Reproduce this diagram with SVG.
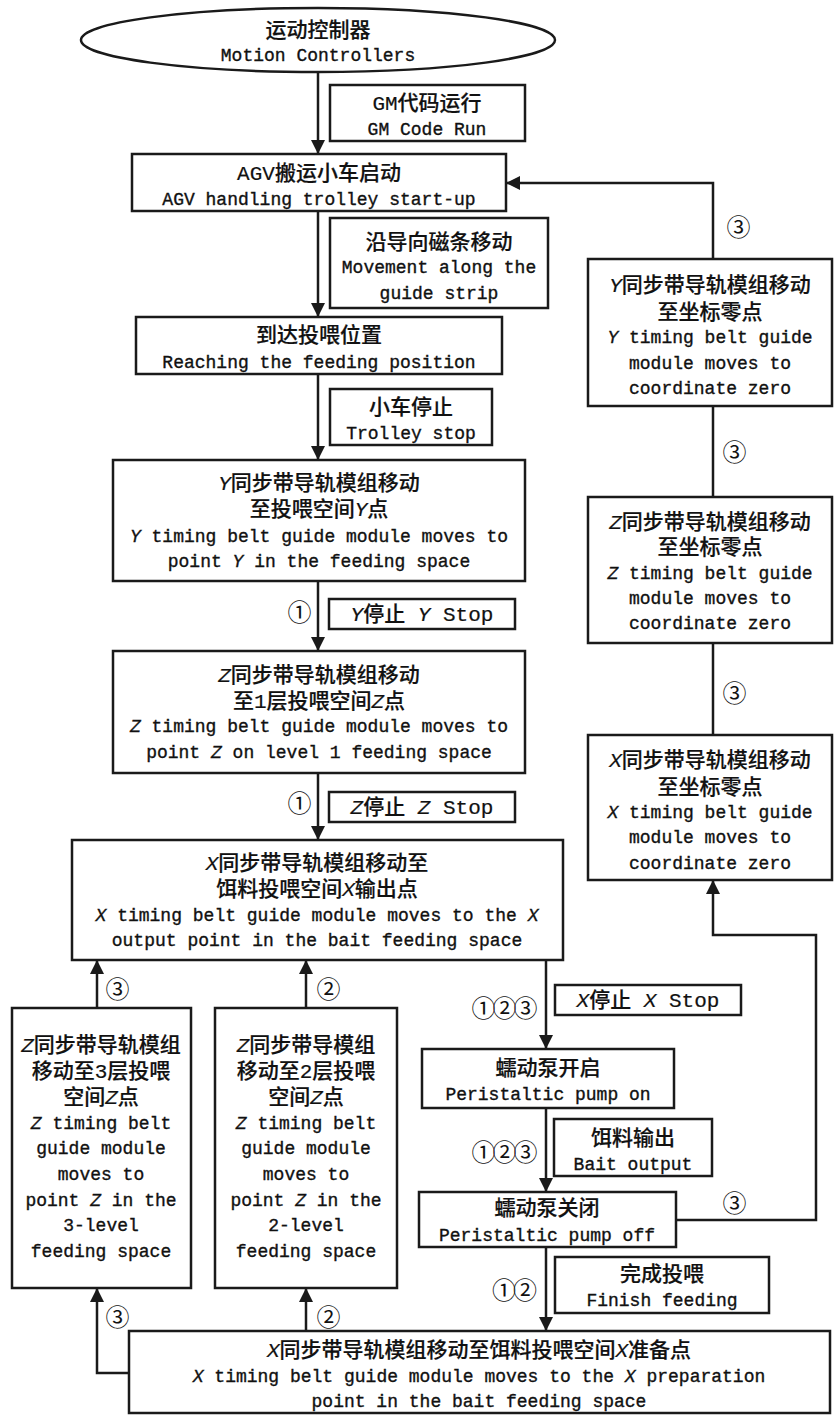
<svg xmlns="http://www.w3.org/2000/svg" width="834" height="1416" viewBox="0 0 834 1416">
<style>
.box{fill:#fff;stroke:#1a1a1a;stroke-width:2.5}
.ln{fill:none;stroke:#1a1a1a;stroke-width:2.5}
.t{font-family:"Liberation Mono","Noto Sans CJK SC",monospace;font-size:18px;fill:#111;stroke:#111;stroke-width:0.35;text-anchor:middle}
.c{font-size:21px;font-weight:500;stroke-width:0.2}
.i{font-style:italic}
.n{font-family:"Noto Sans CJK SC",sans-serif;font-size:24px;letter-spacing:-3px;fill:#111;text-anchor:middle}
</style>
<defs>
<marker id="ah" viewBox="0 0 14 14" refX="14" refY="7" markerWidth="14" markerHeight="14" orient="auto" markerUnits="userSpaceOnUse">
<path d="M0,0 L14,7 L0,14 z" fill="#1a1a1a"/>
</marker>
</defs>
<rect width="834" height="1416" fill="#fff"/>

<g id="connectors">
<path class="ln" d="M318,71 V154" marker-end="url(#ah)"/>
<path class="ln" d="M318,211 V317" marker-end="url(#ah)"/>
<path class="ln" d="M318,374 V460" marker-end="url(#ah)"/>
<path class="ln" d="M318,581 V651" marker-end="url(#ah)"/>
<path class="ln" d="M318,773 V840" marker-end="url(#ah)"/>
<path class="ln" d="M546,960 V1049" marker-end="url(#ah)"/>
<path class="ln" d="M546,1108 V1192" marker-end="url(#ah)"/>
<path class="ln" d="M546,1247 V1331" marker-end="url(#ah)"/>
<path class="ln" d="M676,1220 H816 V935 H713 V880" marker-end="url(#ah)"/>
<path class="ln" d="M713,735 V643"/>
<path class="ln" d="M713,497 V406"/>
<path class="ln" d="M713,259 V183 H506" marker-end="url(#ah)"/>
<path class="ln" d="M306,1331 V1288" marker-end="url(#ah)"/>
<path class="ln" d="M129,1373 H97 V1288" marker-end="url(#ah)"/>
<path class="ln" d="M97,1008 V960" marker-end="url(#ah)"/>
<path class="ln" d="M306,1008 V960" marker-end="url(#ah)"/>
<text class="n" x="737" y="236">③</text>
<text class="n" x="733" y="461">③</text>
<text class="n" x="733" y="702">③</text>
<text class="n" x="733" y="1212">③</text>
<text class="n" x="116" y="998">③</text>
<text class="n" x="327" y="998">②</text>
<text class="n" x="116" y="1326">③</text>
<text class="n" x="327" y="1326">②</text>
<text class="n" x="298" y="621">①</text>
<text class="n" x="298" y="812">①</text>
<text class="n" x="503" y="1017">①②③</text>
<text class="n" x="503" y="1161">①②③</text>
<text class="n" x="513" y="1299">①②</text>
</g>

<g id="n-start">
<ellipse class="box" cx="318" cy="40" rx="237" ry="32"/>
<text class="t c" x="318" y="37">运动控制器</text>
<text class="t" x="318" y="61">Motion Controllers</text>
</g>

<g id="n-gm">
<rect class="box" x="330" y="85" width="195" height="56"/>
<text class="t c" x="427" y="110">GM代码运行</text>
<text class="t" x="427" y="135">GM Code Run</text>
</g>

<g id="n-agv">
<rect class="box" x="132" y="154" width="374" height="57"/>
<text class="t c" x="319" y="180">AGV搬运小车启动</text>
<text class="t" x="319" y="205">AGV handling trolley start-up</text>
</g>

<g id="n-guide">
<rect class="box" x="330" y="218" width="218" height="90"/>
<text class="t c" x="439" y="249">沿导向磁条移动</text>
<text class="t" x="439" y="273">Movement along the</text>
<text class="t" x="439" y="299">guide strip</text>
</g>

<g id="n-reach">
<rect class="box" x="136" y="317" width="366" height="57"/>
<text class="t c" x="319" y="342">到达投喂位置</text>
<text class="t" x="319" y="368">Reaching the feeding position</text>
</g>

<g id="n-stop">
<rect class="box" x="330" y="389" width="162" height="56"/>
<text class="t c" x="411" y="414">小车停止</text>
<text class="t" x="411" y="439">Trolley stop</text>
</g>

<g id="n-y">
<rect class="box" x="113" y="460" width="412" height="121"/>
<text class="t c" x="319" y="490"><tspan class="i">Y</tspan>同步带导轨模组移动</text>
<text class="t c" x="319" y="516">至投喂空间<tspan class="i">Y</tspan>点</text>
<text class="t" x="319" y="542"><tspan class="i">Y</tspan> timing belt guide module moves to</text>
<text class="t" x="319" y="567">point <tspan class="i">Y</tspan> in the feeding space</text>
</g>

<g id="n-ystop">
<rect class="box" x="329" y="599" width="186" height="30"/>
<text class="t c" x="422" y="621"><tspan class="i">Y</tspan>停止 <tspan class="i">Y</tspan> Stop</text>
</g>

<g id="n-z">
<rect class="box" x="113" y="651" width="412" height="122"/>
<text class="t c" x="319" y="682"><tspan class="i">Z</tspan>同步带导轨模组移动</text>
<text class="t c" x="319" y="708">至1层投喂空间<tspan class="i">Z</tspan>点</text>
<text class="t" x="319" y="732"><tspan class="i">Z</tspan> timing belt guide module moves to</text>
<text class="t" x="319" y="758">point <tspan class="i">Z</tspan> on level 1 feeding space</text>
</g>

<g id="n-zstop">
<rect class="box" x="329" y="792" width="186" height="30"/>
<text class="t c" x="422" y="814"><tspan class="i">Z</tspan>停止 <tspan class="i">Z</tspan> Stop</text>
</g>

<g id="n-x">
<rect class="box" x="72" y="840" width="491" height="120"/>
<text class="t c" x="317" y="870"><tspan class="i">X</tspan>同步带导轨模组移动至</text>
<text class="t c" x="317" y="896">饵料投喂空间<tspan class="i">X</tspan>输出点</text>
<text class="t" x="317" y="921"><tspan class="i">X</tspan> timing belt guide module moves to the <tspan class="i">X</tspan></text>
<text class="t" x="317" y="946">output point in the bait feeding space</text>
</g>

<g id="n-z3">
<rect class="box" x="12" y="1008" width="179" height="280"/>
<text class="t c" x="101" y="1052"><tspan class="i">Z</tspan>同步带导轨模组</text>
<text class="t c" x="101" y="1078">移动至3层投喂</text>
<text class="t c" x="101" y="1104">空间<tspan class="i">Z</tspan>点</text>
<text class="t" x="101" y="1129"><tspan class="i">Z</tspan> timing belt</text>
<text class="t" x="101" y="1154">guide module</text>
<text class="t" x="101" y="1180">moves to</text>
<text class="t" x="101" y="1206">point <tspan class="i">Z</tspan> in the</text>
<text class="t" x="101" y="1231">3-level</text>
<text class="t" x="101" y="1257">feeding space</text>
</g>

<g id="n-z2">
<rect class="box" x="215" y="1008" width="182" height="280"/>
<text class="t c" x="306" y="1052"><tspan class="i">Z</tspan>同步带导模组</text>
<text class="t c" x="306" y="1078">移动至2层投喂</text>
<text class="t c" x="306" y="1104">空间<tspan class="i">Z</tspan>点</text>
<text class="t" x="306" y="1129"><tspan class="i">Z</tspan> timing belt</text>
<text class="t" x="306" y="1154">guide module</text>
<text class="t" x="306" y="1180">moves to</text>
<text class="t" x="306" y="1206">point <tspan class="i">Z</tspan> in the</text>
<text class="t" x="306" y="1231">2-level</text>
<text class="t" x="306" y="1257">feeding space</text>
</g>

<g id="n-xstop">
<rect class="box" x="555" y="985" width="186" height="30"/>
<text class="t c" x="648" y="1007"><tspan class="i">X</tspan>停止 <tspan class="i">X</tspan> Stop</text>
</g>

<g id="n-pumpon">
<rect class="box" x="422" y="1049" width="252" height="59"/>
<text class="t c" x="548" y="1075">蠕动泵开启</text>
<text class="t" x="548" y="1100">Peristaltic pump on</text>
</g>

<g id="n-bait">
<rect class="box" x="554" y="1119" width="158" height="57"/>
<text class="t c" x="633" y="1145">饵料输出</text>
<text class="t" x="633" y="1170">Bait output</text>
</g>

<g id="n-pumpoff">
<rect class="box" x="419" y="1192" width="257" height="55"/>
<text class="t c" x="547" y="1215">蠕动泵关闭</text>
<text class="t" x="547" y="1241">Peristaltic pump off</text>
</g>

<g id="n-finish">
<rect class="box" x="555" y="1257" width="214" height="56"/>
<text class="t c" x="662" y="1281">完成投喂</text>
<text class="t" x="662" y="1306">Finish feeding</text>
</g>

<g id="n-xprep">
<rect class="box" x="129" y="1331" width="701" height="82"/>
<text class="t c" x="479" y="1357"><tspan class="i">X</tspan>同步带导轨模组移动至饵料投喂空间<tspan class="i">X</tspan>准备点</text>
<text class="t" x="479" y="1382"><tspan class="i">X</tspan> timing belt guide module moves to the <tspan class="i">X</tspan> preparation</text>
<text class="t" x="479" y="1407">point in the bait feeding space</text>
</g>

<g id="n-yzero">
<rect class="box" x="588" y="259" width="244" height="147"/>
<text class="t c" x="710" y="292"><tspan class="i">Y</tspan>同步带导轨模组移动</text>
<text class="t c" x="710" y="319">至坐标零点</text>
<text class="t" x="710" y="343"><tspan class="i">Y</tspan> timing belt guide</text>
<text class="t" x="710" y="369">module moves to</text>
<text class="t" x="710" y="394">coordinate zero</text>
</g>

<g id="n-zzero">
<rect class="box" x="588" y="497" width="244" height="146"/>
<text class="t c" x="710" y="529"><tspan class="i">Z</tspan>同步带导轨模组移动</text>
<text class="t c" x="710" y="554">至坐标零点</text>
<text class="t" x="710" y="579"><tspan class="i">Z</tspan> timing belt guide</text>
<text class="t" x="710" y="604">module moves to</text>
<text class="t" x="710" y="629">coordinate zero</text>
</g>

<g id="n-xzero">
<rect class="box" x="588" y="735" width="244" height="145"/>
<text class="t c" x="710" y="767"><tspan class="i">X</tspan>同步带导轨模组移动</text>
<text class="t c" x="710" y="794">至坐标零点</text>
<text class="t" x="710" y="818"><tspan class="i">X</tspan> timing belt guide</text>
<text class="t" x="710" y="843">module moves to</text>
<text class="t" x="710" y="869">coordinate zero</text>
</g>
</svg>
